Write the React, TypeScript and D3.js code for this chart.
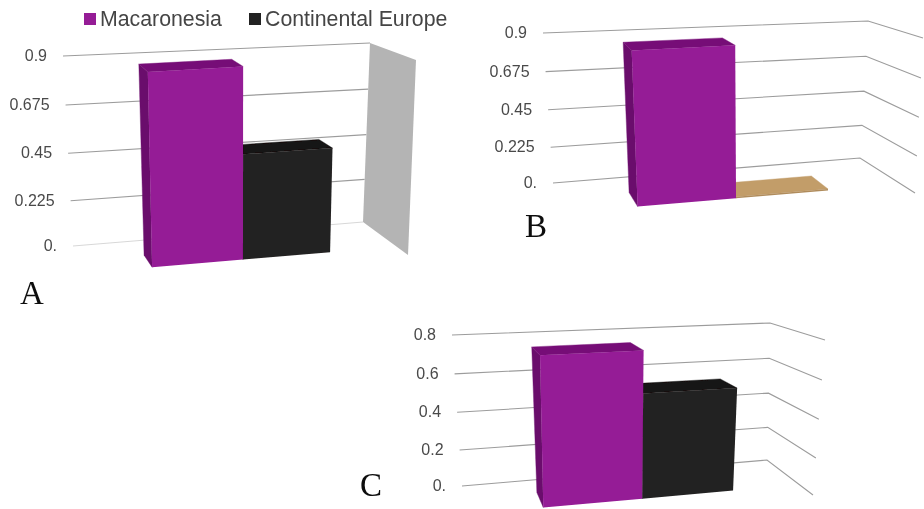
import * as d3 from "d3"

// legend
const seriesNames = ["Macaronesia", "Continental Europe"]

// tick labels
const ticksAB = ["0.", "0.225", "0.45", "0.675", "0.9"]
const ticksC = ["0.", "0.2", "0.4", "0.6", "0.8"]

// values
const valuesA = [0.894, 0.497]
const valuesB = [0.882, 0.01]
const valuesC = [0.76, 0.545]

type Pt = [number, number]
const fontFamily = "'Liberation Sans', Arial, sans-serif"
const colors = {
  purple: { front: "#951a96", top: "#760d77", side: "#6a0c6c" },
  black: { front: "#222020", top: "#131212", side: "#181717" },
  tan: { front: "#b08c5c", top: "#c29d69", side: "#b08c5c" },
}

// each panel is a skewed box: corners of the back wall and of the front plane,
// bottom and top of the axis
const panels = [
  {
    name: "A", ticks: ticksAB, values: valuesA, max: 0.9,
    bl: [[73, 246], [63, 56]], br: [[363, 222], [370, 43]],
    fl: [[91, 282], [84.3, 81.3]], fr: [[408, 255], [416, 60]],
    edges: [0.212, 0.505, 0.786], depth: [0.404, 0.743],
    fills: [colors.purple, colors.black], wall: true,
    letter: [20, 304] as Pt,
  },
  {
    name: "B", ticks: ticksAB, values: valuesB, max: 0.9,
    bl: [[553, 183], [543, 33]], br: [[860, 158], [868, 21]],
    fl: [[568, 223], [558, 57]], fr: [[915, 193], [923, 38]],
    edges: [0.218, 0.51, 0.783], depth: [0.387, 0.747],
    fills: [colors.purple, colors.tan], wall: false,
    letter: [525, 237] as Pt,
  },
  {
    name: "C", ticks: ticksC, values: valuesC, max: 0.8,
    bl: [[462, 486], [452, 335]], br: [[767, 460], [770, 323]],
    fl: [[470, 526], [464, 357]], fr: [[813, 495], [825, 340]],
    edges: [0.228, 0.526, 0.8], depth: [0.32, 0.705],
    fills: [colors.purple, colors.black], wall: false,
    letter: [360, 496] as Pt,
  },
]

type Panel = (typeof panels)[number]

function projector(p: Panel) {
  // the source's axis is not quite even, lower ticks sit a little low
  const level = d3.scalePow().exponent(1.035).domain([0, p.max]).range([0, 1])
  const mix = d3.interpolateNumber
  // trilinear lookup across the box
  return (u: number, value: number, w: number): Pt => {
    const v = level(value)
    const at = (c: number[][], i: number) => mix(c[0][i], c[1][i])(v)
    const axis = (i: number) =>
      mix(mix(at(p.bl as number[][], i), at(p.br as number[][], i))(u), mix(at(p.fl as number[][], i), at(p.fr as number[][], i))(u))(w)
    return [axis(0), axis(1)]
  }
}

const poly = d3.line<Pt>().curve(d3.curveLinearClosed)
const open = d3.line<Pt>()

function ChartPanel({ p }: { p: Panel }) {
  const project = projector(p)
  const tickValue = d3.scaleLinear().domain([0, p.ticks.length - 1]).range([0, p.max])
  const edge = d3.scaleLinear().domain([0, 1, 2]).range(p.edges)
  const [w0, w1] = p.depth

  return (
    <g>
      {p.ticks.map((t, i) => {
        const val = tickValue(i)
        const start = project(0, val, 0)
        const corner = project(1, val, 0)
        const end = project(1, val, 1)
        const faint = p.wall && i === 0
        return (
          <g key={t}>
            <path
              d={open(p.wall ? [start, corner] : [start, corner, end]) ?? ""}
              fill="none"
              stroke={faint ? "#d8d8d8" : "#9c9c9c"}
              strokeWidth={1.1}
            />
            <text x={start[0] - 16} y={start[1] + 5} textAnchor="end" fontSize={16} fill="#4a4a4a" fontFamily={fontFamily}>
              {t}
            </text>
          </g>
        )
      })}
      {p.wall && (
        <path
          d={poly([project(1, 0, 0), project(1, p.max, 0), project(1, p.max, 1), project(1, 0, 1)]) ?? ""}
          fill="#b4b4b4"
        />
      )}
      {p.values
        .map((value, i) => ({ value, i }))
        .reverse()
        .map(({ value, i }) => {
          const a = edge(i)
          const b = edge(i + 1)
          const c = p.fills[i]
          return (
            <g key={i}>
              <path d={poly([project(a, 0, w0), project(a, value, w0), project(a, value, w1), project(a, 0, w1)]) ?? ""} fill={c.side} stroke={c.side} strokeWidth={0.4} />
              <path d={poly([project(a, value, w0), project(b, value, w0), project(b, value, w1), project(a, value, w1)]) ?? ""} fill={c.top} stroke={c.top} strokeWidth={0.4} />
              <path d={poly([project(a, 0, w1), project(a, value, w1), project(b, value, w1), project(b, 0, w1)]) ?? ""} fill={c.front} />
            </g>
          )
        })}
      <text x={p.letter[0]} y={p.letter[1]} fontSize={33} fill="#111" fontFamily="'Liberation Serif', serif">
        {p.name}
      </text>
    </g>
  )
}

export default function App() {
  return (
    <svg
      width={924}
      height={509}
      viewBox="0 0 924 509"
      style={{ position: "absolute", left: 0, top: 0, background: "#fff" }}
    >
      <defs>
        <filter id="soft" x="-2%" y="-2%" width="104%" height="104%">
          <feGaussianBlur stdDeviation={0.6} />
        </filter>
      </defs>
      <g filter="url(#soft)">
        <rect x={84} y={13} width={12} height={12} fill={colors.purple.front} />
        <text x={100} y={26} fontSize={21.3} fill="#444" fontFamily={fontFamily}>
          {seriesNames[0]}
        </text>
        <rect x={249} y={13} width={12} height={12} fill={colors.black.front} />
        <text x={265} y={26} fontSize={21.3} fill="#444" fontFamily={fontFamily}>
          {seriesNames[1]}
        </text>
        {panels.map((p) => (
          <ChartPanel key={p.name} p={p} />
        ))}
      </g>
    </svg>
  )
}
